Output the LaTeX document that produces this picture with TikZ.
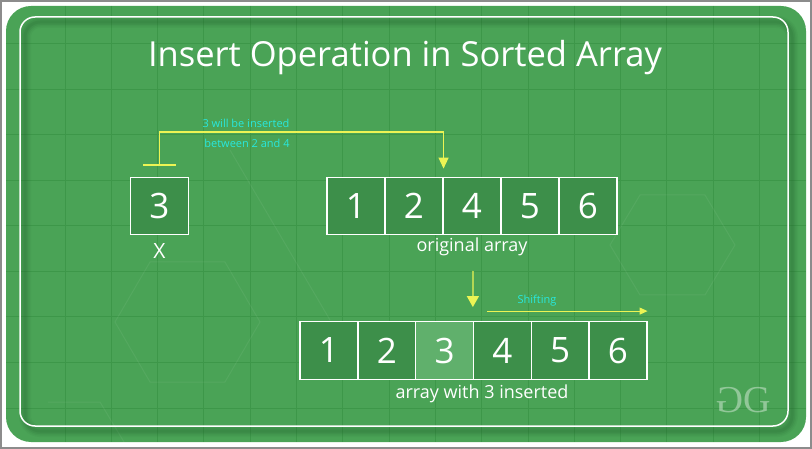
\documentclass[tikz,border=0pt]{standalone}
\usepackage{fontspec}
\setmainfont{Open Sans}
\newfontfamily\logofont{Liberation Serif}
\usetikzlibrary{arrows.meta,calc}
\definecolor{bggreen}{RGB}{74,163,86}
\definecolor{boxgreen}{RGB}{61,143,74}
\definecolor{hlgreen}{RGB}{96,176,108}
\definecolor{gridgreen}{RGB}{61,151,73}
\definecolor{shadowgreen}{RGB}{30,90,40}
\definecolor{arrowyellow}{RGB}{236,244,84}
\definecolor{labelcyan}{RGB}{40,232,222}
\definecolor{framegray}{RGB}{140,140,140}
\begin{document}
\begin{tikzpicture}[x=1pt,y=-1pt,
  cell/.style={draw=white,line width=1.3pt,fill=boxgreen,minimum width=57.8pt,minimum height=57.5pt,inner sep=0pt,text=white,font=\fontsize{35}{35}\selectfont},
  hlcell/.style={cell,fill=hlgreen},
  caption/.style={text=white,font=\fontsize{18}{18}\selectfont,inner sep=0pt},
  note/.style={text=labelcyan,font=\fontsize{11}{11}\selectfont,inner sep=0pt},
  yarrow/.style={draw=arrowyellow,line width=1.3pt},
  gridline/.style={draw=gridgreen,line width=1pt},
  hexline/.style={draw=white,opacity=0.06,line width=1pt}]
\useasboundingbox (0,0) rectangle (812,449);
\fill[white] (0,0) rectangle (812,449);
\draw[framegray,line width=2pt] (1,1) rectangle (811,448);
% green panel
\fill[bggreen,rounded corners=25pt] (6,6) rectangle (806,442);
\begin{scope}
\clip[rounded corners=25pt] (6,6) rectangle (806,442);
\foreach \i in {0,...,15} {\draw[gridline] (65+46.3*\i,6) -- (65+46.3*\i,442);}
\foreach \j in {0,...,8} {\draw[gridline] (6,44+45.5*\j) -- (806,44+45.5*\j);}
\draw[hexline] (115,322) -- (150,262) -- (225,262) -- (260,322) -- (225,382) -- (150,382) -- cycle;
\draw[hexline] (48,402) -- (100,402) -- (130,452);
\draw[hexline] (610,245) -- (640,195) -- (705,195) -- (735,245) -- (705,295) -- (640,295) -- cycle;
\draw[hexline] (230,150) -- (330,320);
% shadow of the frame line
\foreach \w/\o in {12/0.06,9/0.08,6/0.1,3/0.12}
  {\draw[shadowgreen,opacity=\o,line width=\w pt,rounded corners=15pt] (25,22) rectangle (792,431);}
\end{scope}
\draw[white,line width=1.5pt,rounded corners=15pt] (20,17) rectangle (788,426);
% title
\node[text=white,font=\fontsize{34.5}{34.5}\selectfont,inner sep=0pt] (title) at (405,58) {Insert Operation in Sorted Array};
% element to insert
\node[cell] (x) at (159.5,206) {3};
\node[text=white,font=\fontsize{21}{21}\selectfont,inner sep=0pt] (xlab) at (159.5,251) {X};
% original array
\foreach \v [count=\k] in {1,2,4,5,6}
  {\node[cell] (o\k) at (356+58*\k-58,206) {\v};}
\node[caption] (olab) at (472,247) {original array};
% new array
\foreach \v [count=\k] in {1,2,3,4,5,6}
  {\node[cell] (n\k) at (329+57.8*\k-57.8,350.5) {\v};}
\node[hlcell] at (n3) {3};
\node[caption] (nlab) at (482,394) {array with 3 inserted};
% insertion arrow
\coordinate (tbl) at (143,165);
\coordinate (tbr) at (176,165);
\coordinate (tst) at (159.5,165);
\coordinate (ins) at ($(o2.north east)+(0,-8)$);
\draw[yarrow] (tbl) -- (tbr);
\draw[yarrow,-{Triangle[width=10pt,length=11pt]}] (tst) -- ++(0,-33) -| (ins);
\node[note] (n1) at (246,123) {3 will be inserted};
\node[note] (n2) at (247,143) {between 2 and 4};
% down arrow
\coordinate (d1) at (473,271);
\coordinate (d2) at ($(n4.north west)+(0,-14)$);
\draw[yarrow,-{Triangle[width=12pt,length=11pt]}] (d1) -- (d2);
% shifting arrow
\coordinate (s1) at ($(n4.north west)+(14,-10)$);
\coordinate (s2) at ($(n6.north east)+(0,-10)$);
\draw[yarrow,line width=1pt,-{Triangle[width=7pt,length=8pt]}] (s1) -- (s2);
\node[note] (sh) at (537,301) {Shifting};
% logo
\node[text=white,opacity=0.4,font=\logofont\fontsize{38}{38}\selectfont,inner sep=0pt] (logo) at (743,400) {\scalebox{-1}[1]{G}G};
\end{tikzpicture}
\end{document}
